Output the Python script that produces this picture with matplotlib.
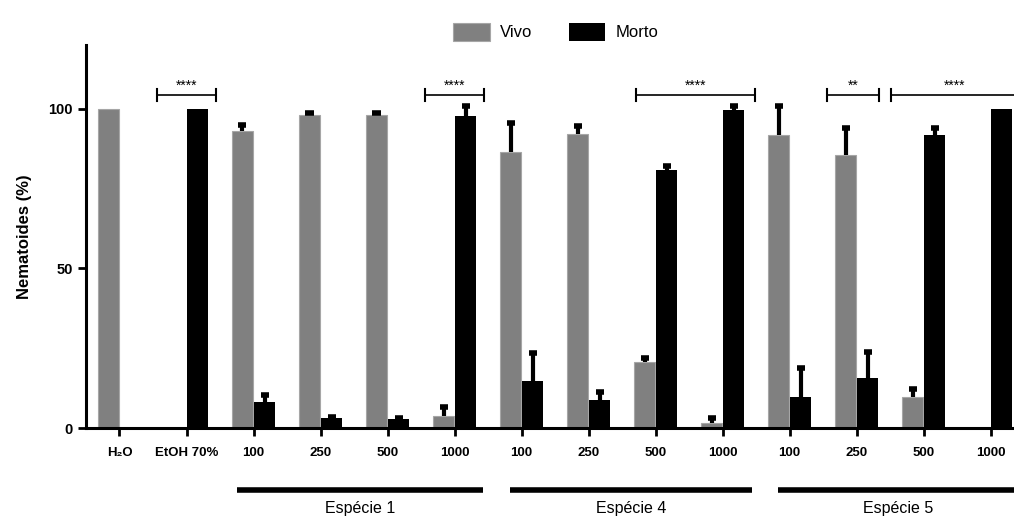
from matplotlib import pyplot as plt
from matplotlib.transforms import blended_transform_factory
import numpy as np

plt.rcParams['font.family'] = ['Liberation Sans', 'DejaVu Sans']

# dados
labels = ['H₂O', 'EtOH 70%', '100', '250', '500', '1000',
          '100', '250', '500', '1000', '100', '250', '500', '1000']
vivo = [100, 0, 93.0, 98.1, 98.2, 3.7, 86.6, 92.2, 20.7, 1.6, 91.7, 85.6, 9.7, 0]
vivo_err = [0, 0, 2.0, 0.5, 0.4, 3.0, 9.0, 2.5, 1.3, 1.4, 9.2, 8.4, 2.5, 0]
morto = [0, 100, 8.2, 3.0, 2.8, 97.7, 14.6, 8.8, 80.7, 99.7, 9.7, 15.6, 91.7, 100]
morto_err = [0, 0, 2.0, 0.5, 0.4, 3.3, 9.0, 2.5, 1.5, 1.3, 9.0, 8.3, 2.4, 0]

# comparacoes (x1, x2, texto)
sig = [(0.555, 1.44, '****'), (4.56, 5.44, '****'), (7.70, 9.49, '****'),
       (10.56, 11.33, '**'), (11.51, 13.6, '****')]
sig_y = 104.4

# grupos
grupos = [(1.754, 5.43, 'Espécie 1'), (5.83, 9.44, 'Espécie 4'), (9.82, 13.6, 'Espécie 5')]

fig = plt.figure(figsize=(10.14, 5.18), dpi=100)
ax = fig.add_axes([0.0848, 0.1737, 0.92, 0.7394])

x = np.arange(len(labels))
w = 0.31
off = 0.165
ax.bar(x - off, vivo, w, color='#808080', edgecolor='#a6a6a6', linewidth=0.8, label='Vivo')
ax.bar(x + off, morto, w, color='black', label='Morto')

# barras de erro so para cima
cap = 0.06
for xs, vals, errs in [(x - off, vivo, vivo_err), (x + off, morto, morto_err)]:
    for xi, vi, ei in zip(xs, vals, errs):
        if ei <= 0:
            continue
        ax.vlines(xi, vi, vi + ei, color='black', lw=3, zorder=3)
        ax.hlines(vi + ei, xi - cap, xi + cap, color='black', lw=4, zorder=3)

ax.set_xlim(-0.5, 13.42)
ax.set_ylim(0, 120)
ax.set_yticks([0, 50, 100])
ax.set_xticks(x)
ax.set_xticklabels(labels, fontweight='bold', fontsize=9.5)
for t in ax.get_yticklabels():
    t.set_fontweight('bold')
    t.set_fontsize(10.5)
ax.tick_params(axis='both', direction='out', length=6, width=2)
ax.tick_params(axis='x', pad=8)
ax.spines['top'].set_visible(False)
ax.spines['right'].set_visible(False)
ax.spines['left'].set_linewidth(2.2)
ax.spines['bottom'].set_linewidth(2.2)
ax.set_ylabel('Nematoides (%)', fontweight='bold', fontsize=12, labelpad=12)

# barras de significancia
for x1, x2, txt in sig:
    ax.plot([x1, x2], [sig_y, sig_y], color='black', lw=1.2, clip_on=False)
    ax.plot([x1, x1], [sig_y - 1.9, sig_y + 1.9], color='black', lw=1.5, clip_on=False)
    if x2 < 13.4:
        ax.plot([x2, x2], [sig_y - 1.9, sig_y + 1.9], color='black', lw=1.5, clip_on=False)
    xm = (x1 + min(x2, 13.42)) / 2
    ax.text(xm, sig_y + 0.6, txt, ha='center', va='bottom', fontsize=10)

# grupos abaixo do eixo
tr = blended_transform_factory(ax.transData, ax.transAxes)
for x1, x2, txt in grupos:
    ax.plot([x1, x2], [-0.162, -0.162], color='black', lw=4, transform=tr,
            clip_on=False, solid_capstyle='butt')
    ax.text((x1 + min(x2, 13.42)) / 2, -0.21, txt, transform=tr, ha='center',
            va='center', fontsize=11.5)

fig.legend(loc='upper center', bbox_to_anchor=(0.548, 0.985), ncol=2, frameon=False,
           fontsize=12, handlelength=2.2, handleheight=1.3, handletextpad=0.6,
           columnspacing=2.2)

plt.savefig('out.png', dpi=100)
